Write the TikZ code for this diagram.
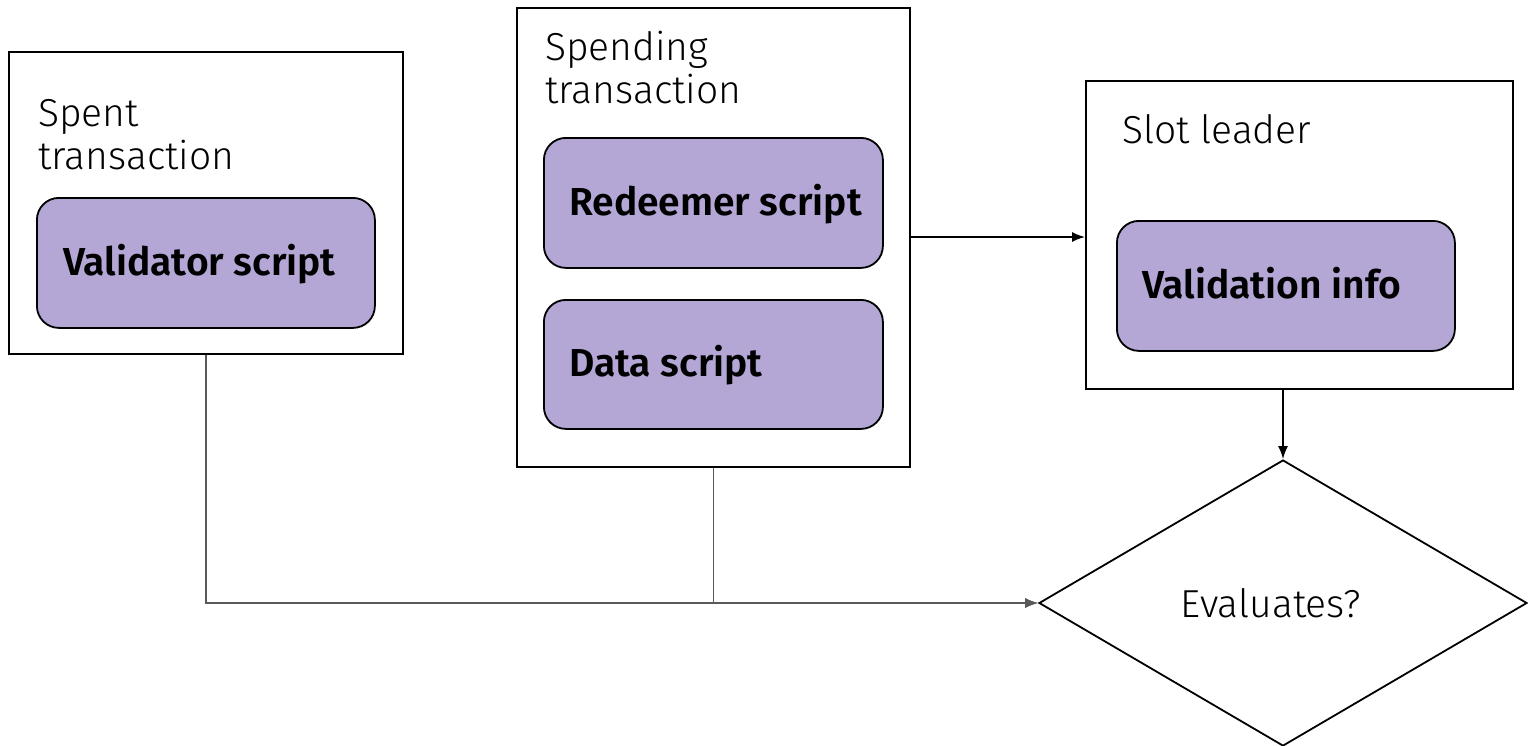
\documentclass[tikz,border=0pt]{standalone}
\usepackage{fontspec}
\setmainfont{Fira Sans}[UprightFont={* Light}, BoldFont={* SemiBold}]
\usetikzlibrary{shapes.geometric,arrows.meta}
\definecolor{boxfill}{HTML}{B4A7D6}
\definecolor{linkgray}{HTML}{595959}
\tikzset{
  x=1pt, y=-1pt,
  outer/.style={draw=black, line width=2pt, fill=white, anchor=north west, inner sep=0pt},
  inner/.style={draw=black, line width=1.8pt, fill=boxfill, rounded corners=22pt, anchor=north west, inner sep=0pt},
  lbl/.style={anchor=base west, inner sep=0pt, font=\fontsize{39}{43}\selectfont, align=left},
  btxt/.style={anchor=base west, inner sep=0pt, font=\fontsize{39}{43}\selectfont\bfseries},
  blackarrow/.style={draw=black, line width=1.6pt, -{Latex[length=13pt,width=10pt]}},
  grayarrow/.style={draw=linkgray, line width=1.6pt, -{Latex[length=13pt,width=10pt]}},
}
\begin{document}
\begin{tikzpicture}
\useasboundingbox (0,0) rectangle (1528,745);
% Spent transaction
\node[outer, minimum width=394pt, minimum height=302pt] (spent) at (8,51) {};
\node[lbl] (spentlbl) at (38,169) {Spent\\transaction};
\node[inner, minimum width=338pt, minimum height=130pt] (valid) at (36,197) {};
\node[btxt] (validtxt) at (63,275) {Validator script};
% Spending transaction
\node[outer, minimum width=393pt, minimum height=459pt] (spending) at (516,7) {};
\node[lbl] (spendinglbl) at (545,103) {Spending\\transaction};
\node[inner, minimum width=339pt, minimum height=130pt] (redeem) at (543,137) {};
\node[btxt] (redeemtxt) at (569,215) {Redeemer script};
\node[inner, minimum width=339pt, minimum height=129pt] (data) at (543,299) {};
\node[btxt] (datatxt) at (569,376) {Data script};
% Slot leader
\node[outer, minimum width=427pt, minimum height=308pt] (slot) at (1085,80) {};
\node[lbl] (slotlbl) at (1122,143) {Slot leader};
\node[inner, minimum width=338pt, minimum height=130pt] (vinfo) at (1116,220) {};
\node[btxt] (vinfotxt) at (1142,298) {Validation info};
% Decision
\node[draw=black, line width=1.8pt, diamond, aspect=1.706, minimum width=488pt, minimum height=286pt, inner sep=0pt] (eval) at (1283,603) {};
\node[inner sep=0pt, anchor=base, font=\fontsize{39}{43}\selectfont] (evaltxt) at (1271,617) {Evaluates?};
% Connectors
\coordinate (spendout) at (909,237);
\draw[blackarrow] (spendout) -- (spendout -| slot.west);
\draw[blackarrow] (slot.south -| eval.north) -- (eval.north);
\draw[grayarrow] (spent.south) |- (eval.west);
\draw[grayarrow] (spending.south) |- (eval.west);
\end{tikzpicture}
\end{document}
